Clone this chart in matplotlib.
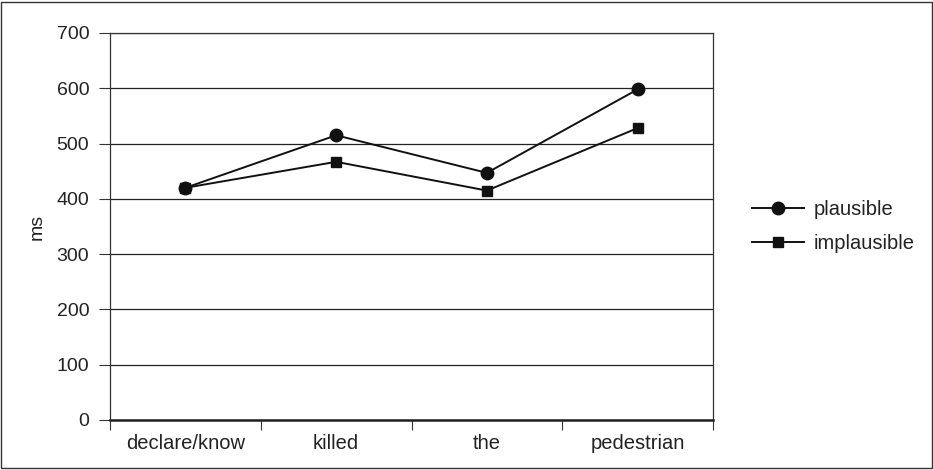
import matplotlib
matplotlib.use("Agg")
import matplotlib.pyplot as plt
from matplotlib.patches import Rectangle

plt.rcParams['font.family'] = ['Liberation Sans', 'DejaVu Sans']

categories = ["declare/know", "killed", "the", "pedestrian"]
plausible = [420, 515, 447, 598]
implausible = [420, 467, 415, 528]
yticks = [0, 100, 200, 300, 400, 500, 600, 700]

fig = plt.figure(figsize=(9.33, 4.70), dpi=100)
ax = fig.add_axes([110/933, 1-420/470, (713-110)/933, (420-33)/470])

x = list(range(len(categories)))
ax.plot(x, plausible, color='#111111', lw=1.4, marker='o', ms=9, label='plausible')
ax.plot(x, implausible, color='#111111', lw=1.4, marker='s', ms=7, label='implausible')

ax.set_xlim(-0.5, len(categories) - 0.5)
ax.set_ylim(0, 700)
ax.set_yticks(yticks)
ax.set_yticklabels([str(v) for v in yticks], fontsize=14, color='#222222')
ax.set_xticks([i - 0.5 for i in range(len(categories) + 1)])
ax.set_xticklabels([])
ax.set_xticks(x, minor=True)
ax.set_xticklabels(categories, minor=True, fontsize=14.5, color='#222222')
ax.tick_params(axis='x', which='minor', length=0, pad=10)
ax.tick_params(axis='x', which='major', length=7, direction='out', color='#333333')
ax.tick_params(axis='y', length=8, direction='out', color='#333333', pad=7)
ax.yaxis.grid(True, color='#222222', lw=0.9)
ax.set_axisbelow(True)
for s in ['left', 'right', 'top']:
    ax.spines[s].set_color('#333333')
    ax.spines[s].set_linewidth(0.9)
ax.spines['bottom'].set_linewidth(1.8)
ax.spines['bottom'].set_color('#222222')
ax.set_ylabel('ms', fontsize=14, labelpad=8, color='#222222')

leg = ax.legend(loc='center left', bbox_to_anchor=(1.035, 0.5), frameon=False,
                fontsize=14.5, handlelength=2.55, labelspacing=0.75, handletextpad=0.5)
for t in leg.get_texts():
    t.set_color('#222222')

fig.patches.append(Rectangle((1/933, 2/470), 931/933, 466/470, transform=fig.transFigure,
                             fill=False, edgecolor='#333333', lw=1.0))

fig.savefig('out.png', dpi=100)
